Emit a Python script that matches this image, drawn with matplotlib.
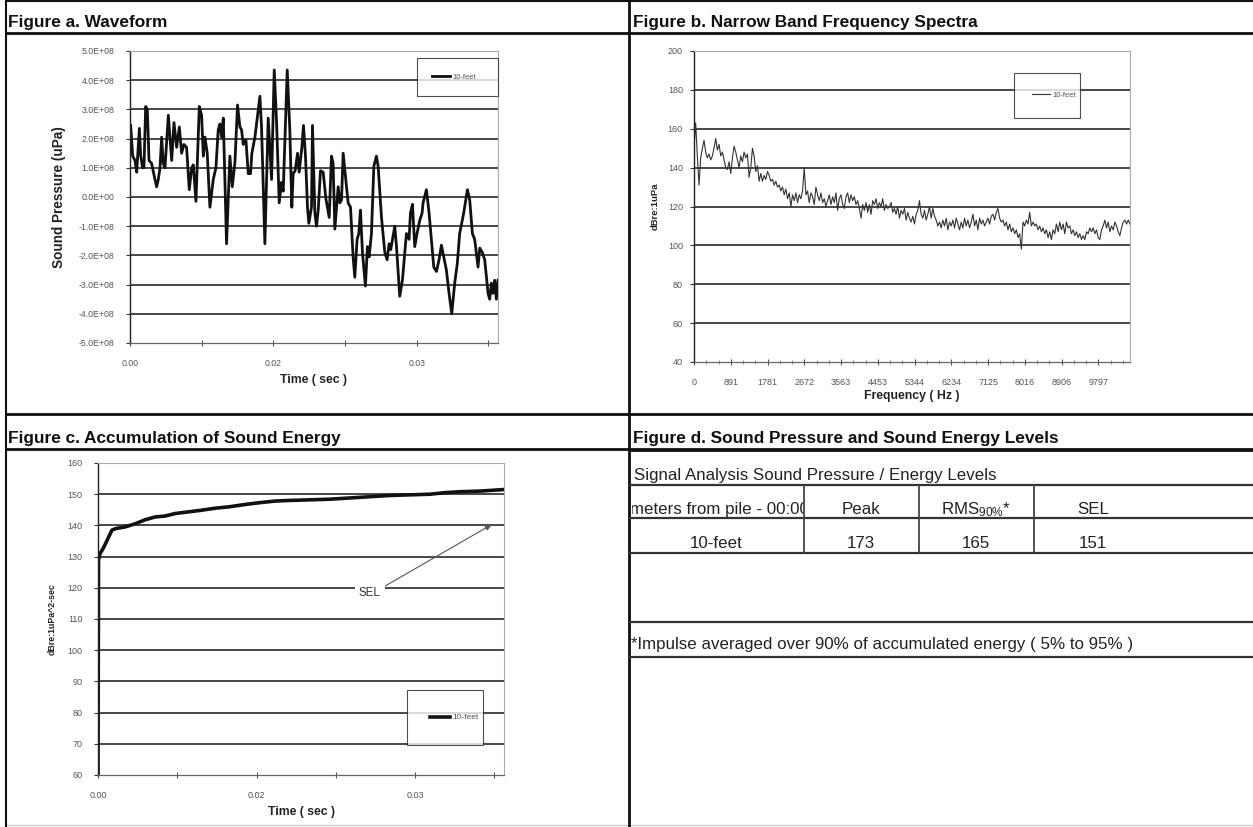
import matplotlib
matplotlib.use('Agg')
import matplotlib.pyplot as plt
import numpy as np
from matplotlib.ticker import FixedLocator, FuncFormatter
from matplotlib.transforms import Bbox, TransformedBbox

plt.rcParams['font.family'] = ['Liberation Sans', 'DejaVu Sans']

# ---------------- data ----------------
series_label = '10-feet'

# Figure a: waveform (time in ms, pressure in 1e8 uPa)
wave_t_ms = [0.07, 0.28, 0.52, 0.70, 0.98, 1.12, 1.32, 1.46, 1.64, 1.81, 1.99, 2.26, 2.61, 2.79, 2.96,
             3.14, 3.31, 3.48, 3.66, 4.01, 4.36, 4.60, 4.88, 5.16, 5.40, 5.64, 5.92, 6.20, 6.45, 6.62,
             6.90, 7.25, 7.49, 7.67, 7.84, 8.08, 8.36, 8.71, 8.99, 9.23, 9.41, 9.58, 9.76, 10.10, 10.45,
             10.70, 10.98, 11.25, 11.50, 11.67, 11.85, 12.13, 12.37, 12.61, 12.75, 13.07, 13.35, 13.59,
             13.76, 14.11, 14.46, 14.81, 15.09, 15.33, 15.61, 15.85, 16.03, 16.45, 16.72, 16.93, 17.07,
             17.28, 17.53, 17.70, 17.98, 18.15, 18.36, 18.57, 18.71, 18.99, 19.09, 19.34, 19.51, 19.69,
             19.93, 20.21, 20.49, 20.84, 21.08, 21.25, 21.43, 21.78, 21.95, 22.13, 22.30, 22.54, 22.82,
             23.07, 23.34, 23.52, 23.76, 23.94, 24.11, 24.32, 24.63, 24.84, 25.02, 25.26, 25.51, 25.78,
             25.96, 26.31, 26.66, 26.90, 27.11, 27.28, 27.46, 27.70, 27.88, 28.22, 28.50, 28.75, 28.92,
             29.20, 29.34, 29.55, 29.79, 30.03, 30.31, 30.56, 30.66, 31.01, 31.29, 31.53, 31.78, 32.06,
             32.33, 32.58, 32.82, 33.10, 33.38, 33.66, 33.97, 34.25, 34.49, 34.91, 35.30, 35.54, 35.82,
             36.06, 36.41, 36.59, 36.86, 37.11, 37.46, 37.63, 37.81, 37.98, 38.15, 38.33, 38.50]
wave_p_e8 = [2.45, 1.4, 1.25, 0.85, 2.35, 1.4, 1.0, 1.0, 3.1, 3.0, 1.25, 1.15, 0.6, 0.35, 0.6,
             1.0, 2.05, 1.15, 1.0, 2.8, 1.25, 2.55, 1.7, 2.4, 1.5, 1.8, 1.7, 0.25, 1.0, 1.1,
             -0.15, 3.1, 2.8, 1.4, 2.05, 1.5, -0.35, 0.6, 1.0, 2.3, 2.5, 2.05, 2.7, -1.6, 1.4,
             0.35, 1.2, 3.15, 2.4, 2.3, 1.8, 1.95, 0.8, 0.8, 1.5, 2.05, 2.8, 3.45,
             2.4, -1.6, 2.7, 0.6, 4.35, 2.6, -0.2, 0.5, 0.2, 4.35, 2.3, -0.35, 0.8,
             0.9, 1.5, 0.85, 1.7, 2.45, 1.4, -0.35, -0.9, -0.35, 2.45, -0.55, -1.0, -0.45,
             0.9, 0.85, -0.05, -0.7, 1.4, 1.15, -1.1, 0.35, -0.2, -0.1, 1.5, 0.7, -0.2,
             -0.35, -2.05, -2.75, -1.45, -1.25, -0.45, -1.9, -3.05, -1.7, -2.05, -1.25, 1.05, 1.4,
             1.05, -0.7, -1.9, -2.15, -1.6, -1.8, -1.45, -1.0, -1.7, -3.4, -2.85, -1.9, -1.25,
             -1.45, -0.55, -0.25, -1.7, -1.25, -0.8, -0.55, -0.2, 0.25, -0.55, -1.45, -2.4, -2.55,
             -2.15, -1.65, -2.05, -2.5, -3.3, -4.0, -2.95, -2.25, -1.25, -0.55, 0.25, -0.1, -1.25,
             -1.45, -2.4, -1.75, -1.9, -2.15, -3.3, -3.5, -2.95, -3.3, -2.85, -3.5, -2.85]
wave_yticks = [-5e8, -4e8, -3e8, -2e8, -1e8, 0, 1e8, 2e8, 3e8, 4e8, 5e8]
time_ticks = [0.0, 0.0075, 0.015, 0.0225, 0.03, 0.0375]
time_ticklabels = ['0.00', '', '0.02', '', '0.03', '']

# Figure b: narrow band spectrum (dB re 1uPa), uniform frequency bins
spec_df_hz = 40.47
spec_db = [150, 163, 146, 131, 145, 150, 154, 148, 145, 147, 144, 146, 150, 155, 149, 152, 146, 148,
           144, 140, 139, 143, 137, 145, 151, 148, 144, 140, 146, 143, 148, 145, 147, 135, 140, 150,
           146, 138, 141, 133, 137, 133, 136, 134, 138, 136, 133, 134, 131, 133, 130, 131, 128, 130,
           126, 129, 124, 127, 120, 126, 123, 127, 122, 126, 124, 128, 140, 126, 128, 122, 127, 125,
           121, 130, 126, 123, 127, 122, 124, 120, 123, 126, 121, 125, 122, 127, 118, 124, 126, 121,
           119, 125, 127, 122, 126, 123, 125, 121, 123, 119, 114, 121, 118, 122, 117, 121, 116, 123,
           121, 124, 119, 122, 120, 124, 118, 121, 119, 120, 122, 117, 119, 116, 120, 114, 118, 116,
           119, 113, 117, 114, 112, 115, 111, 116, 118, 123, 116, 114, 118, 113, 116, 120, 114, 119,
           115, 113, 110, 112, 109, 113, 110, 114, 108, 112, 110, 113, 109, 114, 111, 108, 112, 109,
           114, 110, 113, 109, 112, 116, 110, 113, 108, 114, 111, 113, 110, 112, 114, 111, 115, 116,
           113, 117, 119, 114, 112, 113, 110, 112, 108, 111, 107, 109, 106, 108, 104, 106, 98, 112,
           110, 113, 111, 117, 110, 112, 110, 111, 108, 110, 107, 109, 106, 108, 104, 107, 103, 108,
           106, 111, 107, 112, 108, 111, 106, 112, 109, 110, 106, 108, 105, 107, 104, 106, 103, 105,
           103, 107, 106, 109, 107, 109, 106, 108, 104, 103, 108, 110, 113, 109, 112, 107, 110, 108,
           112, 110, 107, 105, 109, 112, 113, 111, 113, 111]
freq_ticklabels = ['0', '891', '1781', '2672', '3563', '4453', '5344', '6234', '7125', '8016', '8906', '9797']
freq_tick_step = 890.6
spec_yticks = [40, 60, 80, 100, 120, 140, 160, 180, 200]

# Figure c: accumulated sound energy (time in ms, dB re 1uPa^2-sec)
sel_t_ms = [0.0, 0.05, 0.19, 0.47, 0.76, 1.04, 1.32, 1.70, 2.55, 3.50, 4.45, 5.39, 6.34, 7.29, 8.23,
            9.65, 11.07, 12.49, 13.91, 15.33, 16.75, 18.17, 20.06, 21.96, 23.85, 25.74, 27.63, 29.53,
            31.42, 32.84, 34.26, 36.15, 38.42]
sel_db = [60, 129, 131, 132.5, 134.5, 136.5, 138.5, 139, 139.5, 140.5, 141.8, 142.7, 143, 143.8, 144.2,
          144.8, 145.5, 146, 146.7, 147.3, 147.8, 148, 148.2, 148.4, 148.8, 149.2, 149.6, 149.8,
          150, 150.5, 150.8, 151, 151.5]
sel_yticks = [60, 70, 80, 90, 100, 110, 120, 130, 140, 150, 160]

# Figure d: table
table_title = 'Signal Analysis Sound Pressure / Energy Levels'
table_header = ['meters from pile - 00:00', 'Peak', 'RMS', 'SEL']
table_row = ['10-feet', '173', '165', '151']
footnote = '*Impulse averaged over 90% of accumulated energy ( 5% to 95% )'

panel_titles = ['Figure a. Waveform', 'Figure b. Narrow Band Frequency Spectra',
                'Figure c. Accumulation of Sound Energy', 'Figure d. Sound Pressure and Sound Energy Levels']

# ---------------- layout ----------------
W, H = 1253, 827
fig = plt.figure(figsize=(W / 100, H / 100), dpi=100)
fig.patch.set_facecolor('white')

bg = fig.add_axes([0, 0, 1, 1])
bg.set_xlim(0, W)
bg.set_ylim(H, 0)
bg.axis('off')
bg.set_zorder(-5)


def axpx(l, t, r, b):
    return fig.add_axes([l / W, 1 - b / H, (r - l) / W, (b - t) / H])


def hline(y, x0=6, x1=W, lw=2.0, c='#111111'):
    bg.plot([x0, x1], [y, y], color=c, lw=lw, solid_capstyle='butt')


def vline(x, y0, y1, lw=2.0, c='#111111'):
    bg.plot([x, x], [y0, y1], color=c, lw=lw, solid_capstyle='butt')


# frame lines
hline(1, lw=1.5)
hline(33)
hline(414)
hline(449)
hline(825, lw=1.0, c='#cccccc')
vline(6, 0, H, lw=1.5)
vline(629, 0, H)

# titles
tfs = 12.4
bg.text(8, 26.5, panel_titles[0], fontsize=tfs, fontweight='bold', va='baseline', color='#111')
bg.text(633, 26.5, panel_titles[1], fontsize=tfs, fontweight='bold', va='baseline', color='#111')
bg.text(8, 443, panel_titles[2], fontsize=tfs, fontweight='bold', va='baseline', color='#111')
bg.text(633, 443, panel_titles[3], fontsize=tfs, fontweight='bold', va='baseline', color='#111')


def style_axes(ax, ylab_fs):
    ax.set_facecolor('white')
    ax.spines['left'].set_color('#222')
    ax.spines['left'].set_linewidth(1.0)
    ax.spines['bottom'].set_color('#666')
    ax.spines['bottom'].set_linewidth(0.9)
    for s in ('top', 'right'):
        ax.spines[s].set_color('#aaaaaa')
        ax.spines[s].set_linewidth(0.8)
    ax.tick_params(axis='y', direction='out', length=3, width=0.8, color='#333',
                   labelsize=ylab_fs, labelcolor='#555', pad=8)
    ax.tick_params(axis='x', direction='inout', length=5, width=0.8, color='#555',
                   labelsize=ylab_fs, labelcolor='#555', pad=9)
    ax.yaxis.grid(True, color='#2a2a2a', lw=1.2)
    ax.set_axisbelow(True)


def hide_end_grids(ax):
    ticks = ax.yaxis.get_major_ticks()
    ticks[0].gridline.set_visible(False)
    ticks[-1].gridline.set_visible(False)


def add_legend(ax, bbox, borderpad, fs=5.5):
    leg = ax.legend([ax.lines[0]], [series_label], loc='center', bbox_to_anchor=bbox,
                    mode='expand', frameon=True, fancybox=False, fontsize=fs,
                    handlelength=2.3, handletextpad=0.3, borderpad=borderpad, borderaxespad=0)
    leg.get_frame().set_edgecolor('#222')
    leg.get_frame().set_linewidth(0.8)
    for t in leg.get_texts():
        t.set_color('#555')
    return leg


# ---- Figure a ----
axa = axpx(130, 51, 498, 343)
axa.plot(np.array(wave_t_ms) / 1000.0, np.array(wave_p_e8) * 1e8, color='#111', lw=2.0, label=series_label)
axa.set_xlim(0, 0.0385)
axa.set_ylim(-5e8, 5e8)
axa.yaxis.set_major_locator(FixedLocator(wave_yticks))
axa.yaxis.set_major_formatter(FuncFormatter(lambda v, p: f'{v:.1E}'))
axa.set_xticks(time_ticks)
axa.set_xticklabels(time_ticklabels)
style_axes(axa, 6.3)
hide_end_grids(axa)
axa.set_ylabel('Sound Pressure (uPa)', fontsize=9.8, fontweight='bold', color='#222', labelpad=9)
axa.set_xlabel('Time ( sec )', fontsize=8.8, fontweight='bold', color='#222', labelpad=4)
add_legend(axa, ((417 - 130) / 368, (343 - 96) / 292, 81 / 368, 38 / 292), 2.0)

# ---- Figure b ----
axb = axpx(694, 51, 1130, 362)
freqs = np.arange(len(spec_db)) * spec_df_hz
axb.plot(freqs, spec_db, color='#333', lw=0.8, label=series_label)
axb.set_xlim(0, 10565)
axb.set_ylim(40, 200)
axb.yaxis.set_major_locator(FixedLocator(spec_yticks))
axb.set_xticks([i * freq_tick_step for i in range(len(freq_ticklabels))])
axb.set_xticklabels(freq_ticklabels)
axb.set_xticks([i * freq_tick_step / 3 for i in range(36)], minor=True)
style_axes(axb, 6.5)
axb.tick_params(axis='y', pad=5)
axb.tick_params(axis='x', which='minor', direction='inout', length=3, width=0.6, color='#777')
hide_end_grids(axb)
axb.set_ylabel('dBre:1uPa', fontsize=6.8, fontweight='bold', color='#222', labelpad=6)
axb.set_xlabel('Frequency ( Hz )', fontsize=8.8, fontweight='bold', color='#222', labelpad=2)
add_legend(axb, ((1014 - 694) / 436, (362 - 117) / 311, 66 / 436, 43 / 311), 2.4)

# ---- Figure c ----
axc = axpx(98, 463, 504, 775)
axc.plot(np.array(sel_t_ms) / 1000.0, sel_db, color='#111', lw=2.6, label=series_label)
axc.set_xlim(0, 0.0384)
axc.set_ylim(60, 160)
axc.yaxis.set_major_locator(FixedLocator(sel_yticks))
axc.set_xticks(time_ticks)
axc.set_xticklabels(time_ticklabels)
style_axes(axc, 6.5)
hide_end_grids(axc)
axc.set_ylabel('dBre:1uPa^2-sec', fontsize=6.3, fontweight='bold', color='#222', labelpad=8)
axc.set_xlabel('Time ( sec )', fontsize=8.8, fontweight='bold', color='#222', labelpad=4)
add_legend(axc, ((407 - 98) / 406, (775 - 742) / 312, 76 / 406, 49 / 312), 2.8, fs=6.0)
axc.annotate('SEL', xy=(0.0373, 140.4), xytext=(0.0257, 118.2), fontsize=8.3, color='#333',
             ha='center', va='center',
             bbox=dict(boxstyle='square,pad=0.35', fc='white', ec='none'),
             arrowprops=dict(arrowstyle='-|>,head_length=0.5,head_width=0.2', color='#555', lw=0.8,
                             shrinkA=0, shrinkB=0, relpos=(1.0, 0.9)))

# ---- Figure d (table) ----
fs = 12.2
tc = '#222'
bg.text(634, 480, table_title, fontsize=fs, va='baseline', color=tc)
hline(450, x0=629)
for y in (485, 518, 553, 622, 657):
    hline(y, x0=629, lw=1.6, c='#333')
for x in (804, 919, 1034):
    vline(x, 485, 553, lw=1.3, c='#444')

t0 = bg.text(630, 514, table_header[0], fontsize=fs, va='baseline', color=tc, clip_on=True)
t0.set_clip_box(TransformedBbox(Bbox([[632, 486], [803, 517]]), bg.transData))
bg.text(861, 514, table_header[1], fontsize=fs, va='baseline', ha='center', color=tc)
bg.text(976, 514, r'RMS$\mathregular{_{90\%}}$*', fontsize=fs, va='baseline', ha='center', color=tc)
bg.text(1093, 514, table_header[3], fontsize=fs, va='baseline', ha='center', color=tc)
centers = [716, 861, 976, 1093]
for cx, val in zip(centers, table_row):
    bg.text(cx, 548, val, fontsize=fs, va='baseline', ha='center', color=tc)
bg.text(631, 649, footnote, fontsize=fs, va='baseline', color=tc)

fig.savefig('out.png', dpi=100, facecolor='white')
